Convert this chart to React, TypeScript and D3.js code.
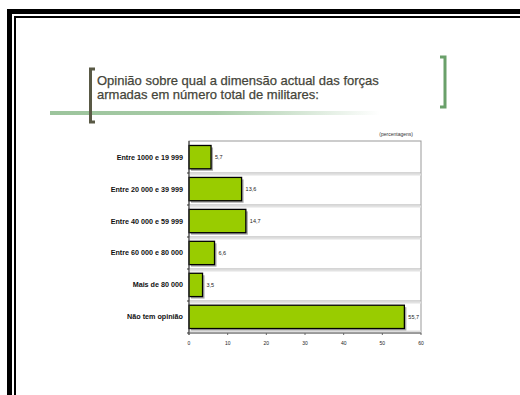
import React from "react";
import * as d3 from "d3";

const categories = [
  "Entre 1000 e 19 999",
  "Entre 20 000 e 39 999",
  "Entre 40 000 e 59 999",
  "Entre 60 000 e 80 000",
  "Mais de 80 000",
  "Não tem opinião",
];
const values = [5.7, 13.6, 14.7, 6.6, 3.5, 55.7];
const valueLabels = ["5,7", "13,6", "14,7", "6,6", "3,5", "55,7"];
const xTicks = [0, 10, 20, 30, 40, 50, 60];
const titleLines = [
  "Opinião sobre qual a dimensão actual das forças",
  "armadas em número total de militares:",
];
const unitLabel = "(percentagens)";

export default function App() {
  const W = 520, H = 395;
  const left = 189, right = 421, top = 141, bottom = 333;
  const x = d3.scaleLinear().domain([0, 60]).range([left, right]);
  const y = d3.scaleBand<string>().domain(categories).range([top, bottom]).paddingInner(0.27).paddingOuter(0.14);
  const band = (bottom - top) / categories.length;
  const font = "'Liberation Sans', Arial, sans-serif";
  return (
    <svg width={W} height={H} style={{ position: "absolute", left: 0, top: 0, background: "#fff" }}>
      <defs>
        <linearGradient id="gl" x1="0" x2="1" y1="0" y2="0">
          <stop offset="0" stopColor="#9cc49c" />
          <stop offset="0.5" stopColor="#a8cca8" />
          <stop offset="1" stopColor="#ffffff" />
        </linearGradient>
      </defs>
      <rect x={0} y={0} width={W} height={H} fill="#fff" />
      {/* frame */}
      <path d={`M9.5,${H} V11.5 H${W}`} fill="none" stroke="#000" strokeWidth={5} />
      <path d={`M15,${H} V17 H${W}`} fill="none" stroke="#000" strokeWidth={2} />
      {/* title decoration */}
      <rect x={50} y={111} width={330} height={4} fill="url(#gl)" />
      <path d="M95,69 H90.5 V122 H95" fill="none" stroke="#595945" strokeWidth={3} />
      <path d="M440,57 H445 V107 H440" fill="none" stroke="#6aa06a" strokeWidth={3} />
      {titleLines.map((t, i) => (
        <text key={i} x={97} y={84.5 + i * 14} fontFamily={font} fontSize={13} fill="#45453a" stroke="#45453a" strokeWidth={0.25}>{t}</text>
      ))}
      {/* plot frame */}
      <rect x={left} y={top} width={right - left} height={bottom - top} fill="#fff" stroke="#999" strokeWidth={1} />
      {categories.slice(1).map((c, i) => {
        const yy = top + band * (i + 1);
        return (
          <g key={c}>
            <line x1={left} x2={right} y1={yy} y2={yy} stroke="#aaa" strokeWidth={1} />
            <line x1={left} x2={right} y1={yy + 1.5} y2={yy + 1.5} stroke="#e2e2e2" strokeWidth={2} />
          </g>
        );
      })}
      <line x1={left} x2={right} y1={bottom - 1.5} y2={bottom - 1.5} stroke="#ddd" strokeWidth={2} />
      {/* bars */}
      {categories.map((c, i) => {
        const by = y(c)!;
        const bh = y.bandwidth();
        return (
          <g key={c}>
            <rect x={x(0) + 2} y={by + 2} width={x(values[i]) - x(0)} height={bh} fill="#a8a8a8" />
            <rect x={x(0)} y={by} width={x(values[i]) - x(0)} height={bh} fill="#99cc00" stroke="#000" strokeWidth={1.3} />
            <text x={x(values[i]) + 4} y={by + bh / 2 + 2} fontFamily={font} fontSize={5.5} fill="#222">{valueLabels[i]}</text>
            <text x={left - 6} y={by + bh / 2 + 2.5} fontFamily={font} fontSize={7.2} fontWeight="bold" textAnchor="end" fill="#111">{c}</text>
          </g>
        );
      })}
      {/* axes */}
      <line x1={left} x2={left} y1={top} y2={bottom + 2} stroke="#333" strokeWidth={1} />
      <line x1={left} x2={right} y1={bottom} y2={bottom} stroke="#666" strokeWidth={1} />
      {categories.map((c, i) => (
        <line key={c} x1={left - 2} x2={left} y1={top + band * (i + 1)} y2={top + band * (i + 1)} stroke="#333" />
      ))}
      {xTicks.map((t) => (
        <g key={t}>
          <line x1={x(t)} x2={x(t)} y1={bottom} y2={bottom + 2} stroke="#666" />
          <text x={x(t)} y={345} fontFamily={font} fontSize={5} textAnchor="middle" fill="#222">{t}</text>
        </g>
      ))}
      <text x={right - 8} y={136} fontFamily={font} fontSize={5} textAnchor="end" fill="#333">{unitLabel}</text>
    </svg>
  );
}
